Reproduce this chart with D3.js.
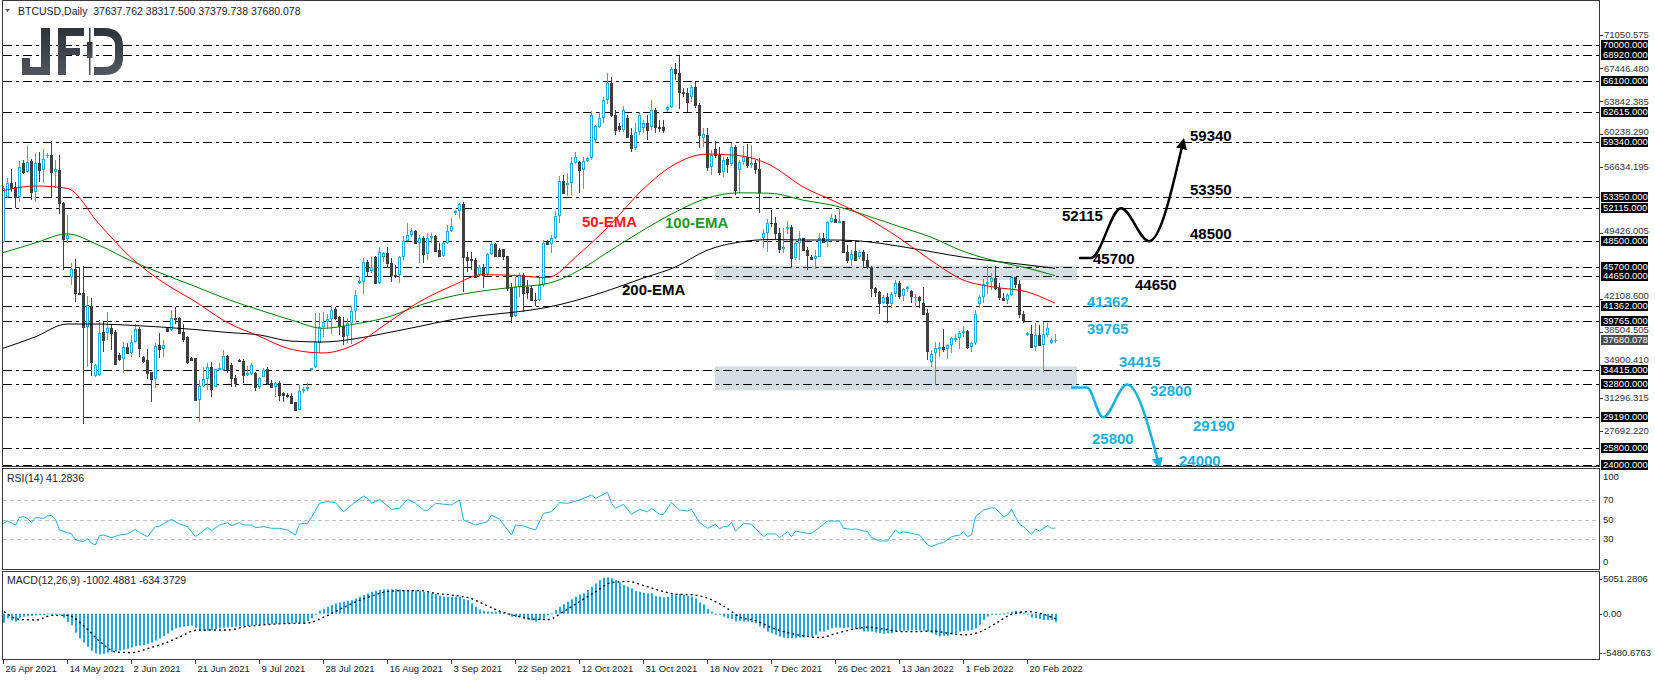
<!DOCTYPE html>
<html><head><meta charset="utf-8">
<script src="https://cdn.jsdelivr.net/npm/d3@7"></script>
<style>body{margin:0;background:#fff}svg{display:block}</style>
</head><body>
<svg id="c" width="1655" height="680"></svg>
<script>
// ---------------- DATA ----------------
const dateLabels = ["26 Apr 2021","14 May 2021","2 Jun 2021","21 Jun 2021","9 Jul 2021","28 Jul 2021","16 Aug 2021","3 Sep 2021","22 Sep 2021","12 Oct 2021","31 Oct 2021","18 Nov 2021","7 Dec 2021","26 Dec 2021","13 Jan 2022","1 Feb 2022","20 Feb 2022"];
const dateLabelBars = [0,16,32,48,64,80,96,112,128,144,160,176,192,208,224,240,256];

const open = [48450,53380,54900,54480,53310,57040,56120,57330,53930,57110,56300,57900,57950,56120,56300,52720,48700,44610,45420,42860,
42780,39060,41400,33720,33830,38580,38400,38950,38580,36030,35550,36860,36210,37490,38840,35840,35480,34200,33360,37120,
36650,39050,38770,40100,40040,38580,38030,35730,35660,31090,32630,33360,34750,32550,34450,34380,35920,34930,33470,35480,
35400,33980,33940,34090,32550,33650,34450,32920,32480,32920,31900,31640,31530,30910,30000,32120,32260,34380,34670,37380,
39060,39680,40000,41030,40230,39200,38110,39500,40880,43880,44060,46180,45270,46800,43880,46730,47170,46070,44790,44790,
46730,48560,49170,49620,48270,48810,47100,48810,49070,47530,46880,48270,49620,51550,51810,52580,46730,46510,46440,44790,
45630,44900,47100,48160,47530,47610,46880,43330,40300,43520,44790,43510,43330,42050,42050,43700,48450,48190,48810,51260,
55130,54650,54920,57030,57220,56300,57330,57580,59590,61050,61970,63980,65800,62330,61130,60690,61970,60140,58680,60510,
60870,61420,61050,62880,60980,60980,62880,63170,67340,66900,64890,64710,64270,65370,63430,59780,60140,56670,58570,57950,
56120,57470,56960,58860,56300,57220,57770,56850,57110,56380,48810,49430,50530,50460,49430,47610,49980,50090,46620,48270,
48810,47530,46800,46510,46800,48810,48450,50640,50900,50640,50700,47350,46440,47460,46800,47350,46440,45710,43330,42970,
41760,42350,41610,42710,43950,42490,43220,43080,42350,42420,41690,40590,35290,36210,36760,36860,36650,37120,37740,37850,
38470,38690,36860,37300,41610,42420,43810,44060,44430,43330,42240,42050,42600,44540,43810,40520,38330,38330,36940,38220,
37120,38220,37380,37637.762];
const high = [54500,55390,56380,55030,57330,57400,58940,57470,58200,58240,58570,58200,59520,57400,57950,52800,51370,46150,46510,45700,
45780,42490,42240,35000,39860,39680,40780,39420,38800,36200,37490,37380,38220,39420,39130,35920,36650,34200,37300,38400,
37670,39130,40960,41320,40150,39420,38110,35840,35660,33290,34750,35180,35290,34530,35180,36570,36030,35110,33830,35620,
35550,34800,35110,34160,33650,34560,34670,33280,33100,33210,32010,31820,31820,30910,32740,32480,32920,34620,40590,40590,
40780,40500,41500,41320,40300,40230,40040,41400,43150,44610,46620,46440,46730,46880,47830,47350,47900,46620,45890,46880,
49070,50460,49910,49730,49180,49060,49360,49360,49170,48260,48450,50280,51010,51920,52650,52830,47350,47350,46620,45890,
46000,47170,48450,48270,47720,47610,46880,43880,44610,44980,44980,44300,43700,42800,44500,48630,48630,49180,51810,55680,
55760,55940,57770,58310,57340,57700,57770,62810,61230,62700,64300,66900,66500,62880,61420,63290,62330,60870,61420,62700,
61790,62330,63990,63080,61790,61790,63350,67600,68000,68910,65250,65250,65620,66100,63600,60870,60870,58500,59500,58860,
57770,57770,59230,59000,57400,58900,59200,59000,57400,57580,49800,50900,51900,51200,50000,50000,50700,50300,48450,49620,
48880,47830,46990,47530,49360,49360,50750,51480,51370,51990,50750,48100,47560,48540,47500,47500,47100,45780,43510,43080,
42600,42790,42970,44250,44100,43400,43600,43200,42700,42500,43500,41100,36600,37500,37500,38840,37200,38000,38300,38700,
39200,38800,37400,41000,42600,44400,45780,45000,45780,43900,42800,42800,44640,44600,44200,40900,38600,39300,39500,39300,
39680,39500,37900,38317.5];
const low = [48300,53200,53930,52100,52830,55900,56000,53010,52830,55030,54910,57600,53310,54290,51440,45340,48260,43700,41870,42600,
28460,34750,33720,33650,33720,36390,37670,36570,34930,35400,34090,36130,35770,37380,35840,35180,33360,30910,32370,35660,
35770,38580,38690,39420,38380,37420,35040,35400,31000,28720,32550,32190,31380,32480,34380,34310,34020,32550,32550,35250,
32920,33740,33830,32120,32260,33570,32740,32370,31460,31030,30910,31280,30720,29920,30000,31900,32120,34260,34560,36280,
38030,38900,38300,39860,38200,37120,37300,37230,39860,43810,42710,44540,45050,43810,43810,46260,45530,44060,44430,43880,
46440,48560,48920,48190,46150,46070,46440,48340,47350,46800,46800,48190,49540,51370,50900,42970,45160,45340,44430,44610,
43330,44680,46990,46800,46800,46440,43000,39500,40150,42420,40770,42190,42050,41400,41900,43500,48080,47170,48700,50460,
53750,53450,53560,56960,53750,54190,57150,57400,59290,60900,61430,63500,62060,60140,60500,60500,59770,58310,58500,60140,
60320,59590,60690,60410,60500,60320,62700,63100,66200,63000,64300,62700,63800,63100,58690,58860,56150,55760,57580,55800,
55580,55940,56780,53560,53800,56800,56500,56500,55900,51550,47800,47300,50100,48700,47200,47200,49300,45520,46400,46440,
47460,45340,46440,45420,46730,48340,47900,50530,50460,50500,47300,46100,45800,46300,46500,45520,45400,42350,42350,40520,
41610,39500,41140,42420,42200,41900,42900,41700,41400,41200,40400,35500,34700,32740,35800,36300,35600,36200,37400,36700,
38000,36700,36300,37100,41200,41700,42700,43200,43200,42000,41900,41600,42500,43400,40100,39500,38100,36800,36500,37050,
34200,38050,37250,37379.738];
const close = [54300,54850,54300,53310,56600,56120,57220,53930,57110,56300,57470,58000,56120,56380,52720,48700,49180,45420,42780,42710,
39060,41500,35290,34930,38400,37670,38950,38400,35040,35550,36860,36210,37490,38840,36760,35400,34090,33360,37010,36650,
37120,38700,40040,39960,38400,37740,35290,35480,31090,32630,33360,34750,32260,34450,34560,35920,34450,33470,32990,35330,
33830,34030,34930,32550,33470,34380,32920,32480,32990,31640,31640,31530,30800,30000,32120,32260,32480,34560,37490,39060,
39680,40000,41000,40040,39200,38110,39570,40880,42600,44140,46180,45270,45630,43880,47350,47170,46070,44790,44680,46730,
48560,49170,49610,48270,48810,47100,48810,49070,47460,46880,48270,49620,50170,51810,52580,46730,46440,46440,44610,45630,
44750,47100,48160,46880,46880,46880,43330,40300,43520,44790,42860,42970,42050,42000,43700,48270,48190,48810,51260,55130,
53820,54920,57030,57770,56300,57330,57580,62330,61130,61970,63980,65800,62330,60690,60760,62880,59960,58680,60510,62330,
61420,60690,62880,60980,60870,60690,63170,67340,66900,64890,64710,63790,65370,63430,60140,60250,56670,57950,57950,56120,
57400,56960,58860,54110,57220,57770,56850,57030,56380,53930,49430,50460,50460,49430,47610,47900,50090,46620,48270,48810,
47530,46990,46510,46880,48810,48450,50640,51010,50640,50700,47350,46440,47100,46440,47350,46440,45710,43330,42970,41760,
42350,41690,42710,43880,42490,43220,43440,42490,42420,42050,40520,36500,36130,36760,36860,36650,37120,37850,37850,38470,
38690,36860,37300,40520,42420,43810,44060,44430,43330,42420,42050,42600,44540,43810,40520,39860,38400,36940,38220,37120,
38330,38950,37670,37680.078];

// moving averages read at every 8th bar (last point = last bar)
const emaBars = [0,8,16,24,32,40,48,56,64,72,80,88,96,104,112,120,128,136,144,152,160,168,176,184,192,200,208,216,224,232,240,248,256,263];
const ema50  = [54030,54550,54300,50400,46700,44000,41900,39600,38100,36650,36250,37180,39500,41830,43550,44830,44750,44500,47100,50400,54200,56950,58050,57880,56800,54450,52850,51050,48870,46400,44250,43450,42950,41700];
const ema100 = [47240,48300,49300,48050,46350,44900,43550,42150,40980,39870,38950,39420,40150,41450,42450,43050,43470,43850,45300,47520,49700,51670,53220,53800,53750,53000,52370,51290,50110,48940,47400,46340,45560,44720];
const ema200 = [36760,38000,39420,39420,39280,39080,38820,38500,38230,37550,37450,37800,38450,39150,39880,40370,40730,41250,42100,43200,44450,45650,47500,48400,48680,48630,48630,48450,47950,47350,46750,46300,45900,45530];

// RSI(14)
const rsiBars = [0,1,3,4,5,6,7,8,10,11,12,13,14,16,17,18,20,21,22,23,24,25,27,29,31,33,34,36,38,39,42,44,46,48,50,51,52,54,56,57,59,60,62,63,65,67,69,71,73,74,76,78,79,81,83,85,87,90,91,92,94,97,99,101,103,105,106,108,112,114,115,118,121,122,124,127,128,130,133,135,137,139,141,144,147,148,151,152,153,155,157,159,161,162,164,165,167,169,171,172,174,176,178,179,180,181,182,183,185,187,190,191,193,194,196,197,198,201,202,204,206,209,210,212,213,216,217,219,221,223,224,225,227,229,231,232,234,235,237,239,240,241,242,243,245,247,248,250,251,252,254,255,257,258,259,261,262,263];
const rsiValues = [46.1,48.5,44.3,52.2,52.9,51.2,46.8,51.9,51.2,53.6,54.3,50.2,39.2,36.5,35.2,29,27.3,30.4,25.6,23.9,33.5,34.1,31.4,34.1,35.2,39.9,36.5,32.4,42.7,43.3,50.2,45.4,42.7,32.4,38.6,42,38.6,44.4,46.8,43.7,46.8,44.4,44.4,41.6,42.7,41,41,39.2,34.1,45.4,46.1,59.1,66.6,68.3,67.3,58,64.9,74.1,71.7,66.6,70.7,60.4,61.5,70.7,66.6,59.8,59.1,66.6,64.9,70,49.5,44.3,47.8,54.6,50.2,34.1,44.4,43.3,39.2,56.3,58,67.3,66.6,70,75.1,71.7,77.9,66.6,61.5,65.6,55.3,60.4,58,61.5,55.3,55.3,67.3,59.7,58.7,60.4,47.1,40.9,45.1,40.3,42.7,42.7,47.1,38.2,46,45.1,32.4,35.2,35.2,31.4,37.5,32.4,38.2,35.8,35.8,42,48.4,48.4,40.9,39.9,40.3,37.5,31.4,28,28,39.2,35.8,37.5,35.8,34.1,23.9,22.2,25.6,26.3,32.4,34.1,37.5,32.4,34.1,52.9,59.7,62.1,61.5,52.9,54.6,60.4,45.1,42.7,34.8,40.3,38.2,43.7,41,41.2836];
const rsiLevels = [70,50,30];

// MACD(12,26,9): main line as histogram, signal read every 4 bars
const macdMain = [-1090,-560,-800,-960,-500,-360,-300,-280,-200,-160,
0,40,-40,-40,-120,-500,-1000,-1400,-2300,-3000,
-3500,-4000,-4500,-4800,-4920,-4850,-4720,-4650,-4550,-4450,
-4350,-4250,-4100,-3950,-3850,-3800,-3650,-3500,-3250,-3000,
-2700,-2400,-2050,-1770,-1650,-1570,-1500,-1450,-1700,-1970,
-2050,-2050,-1970,-1850,-1770,-1700,-1650,-1600,-1570,-1520,
-1490,-1470,-1450,-1400,-1370,-1330,-1290,-1260,-1250,-1200,
-1170,-1170,-1170,-1100,-1090,-1250,-900,-560,-100,360,
600,850,1050,1250,1350,1450,1550,1650,1850,2060,
2260,2460,2650,2790,2900,2950,2950,2950,2950,2920,
2880,2870,2870,2830,2790,2650,2550,2450,2380,2200,
2060,2060,2060,2060,2060,1800,1650,1250,850,500,
360,280,240,240,240,100,40,-360,-400,-440,
-560,-680,-800,-960,-750,-560,-200,40,450,850,
1150,1450,1750,2060,2300,2460,2870,3270,3670,4070,
4360,4400,4280,4070,3790,3470,3270,3070,2750,2660,
2540,2460,2460,2140,2060,1980,2060,2340,2380,2380,
2260,2180,2060,1860,1370,1130,570,250,-30,-70,
-350,-550,-630,-950,-870,-950,-950,-1030,-1150,-1550,
-1760,-2160,-2360,-2560,-2760,-2880,-2960,-2960,-2960,-2880,
-2880,-2760,-2760,-2560,-2160,-2160,-1960,-1760,-1680,-1680,
-1760,-1680,-1760,-1880,-1880,-2160,-2160,-2160,-2280,-2360,
-2440,-2360,-2360,-2160,-2080,-2040,-2040,-2040,-2040,-2040,
-2040,-2160,-2360,-2560,-2760,-2680,-2680,-2480,-2360,-2160,
-2080,-2040,-1960,-1760,-1350,-750,-350,-150,-30,10,
50,130,250,370,250,130,-70,-470,-550,-630,
-750,-750,-750,-1002.4881];
const signalBars = [0,4,8,12,16,20,24,28,32,36,40,44,48,52,56,60,64,68,72,76,80,84,88,92,96,100,104,108,112,116,120,124,128,132,136,140,144,148,152,156,160,164,168,172,176,180,184,188,192,196,200,204,208,212,216,220,224,228,232,236,240,244,248,252,256,260,263];
const macdSignal = [250,-700,-760,-200,-200,-1500,-3390,-4650,-4700,-4200,-3600,-2800,-2000,-1970,-1970,-1600,-1380,-1250,-1170,-1120,-400,550,1450,2150,2700,2800,2800,2450,2260,1950,1150,300,-250,-650,-700,300,1500,2700,3800,3900,3400,2800,2360,2300,1850,900,-400,-850,-1700,-2300,-2700,-2880,-2400,-1900,-1640,-1850,-2160,-2160,-2100,-2350,-2560,-2200,-1150,-50,250,-100,-634.3729];

// horizontal levels (dash-dot) with black price tags
const levels = [70000,68920,66100,62615,59340,53350,52115,48500,45700,44650,41362,39765,34415,32800,29190,25800,24000];
const priceTicks = [71050.575,67446.480,63842.385,60238.290,56634.195,49426.005,42108.600,38504.505,34900.410,31296.315,27692.220];
const lastPrice = 37680.078;
const zones = [[45850,44250],[34780,32150]];
// scenario paths: [price, bar offset from the path start]
const scenarioUp = [[46650,0],[46650,3],[52115,10.5],[48500,17.5],[59340,26]];
const scenarioDown = [[32450,0],[32450,4],[29190,8],[32800,14],[24000,22]];
const blackLabels = [["59340",59340],["53350",53350],["52115",52115],["48500",48500],["45700",45700],["44650",44650]];
const blueLabels = [["41362",41362],["39765",39765],["34415",34415],["32800",32800],["29190",29190],["25800",25800],["24000",24000]];

// ---------------- DRAW ----------------
const svg = d3.select("#c");
const CY = "#1cb0df", DK = "#404040", FONT = "'Liberation Sans', Arial, sans-serif";
const nBars = close.length;

const x = d3.scaleLinear().domain([0, 1]).range([3, 7]);           // 4px per bar
const y = d3.scaleLinear().domain([70000, 24000]).range([45.05, 464.7]);
const yR = d3.scaleLinear().domain([0, 100]).range([568.25, 470.75]);
const yM = d3.scaleLinear().domain([-5480.6763, 5051.2806]).range([659, 572]);

const P = {x0: 2.5, x1: 1599.5};
const panels = [[0.5, 466.5], [468.5, 569.5], [571.5, 659.5]];
const defs = svg.append("defs");
panels.forEach((p, k) => {
  defs.append("clipPath").attr("id", "cp" + k).append("rect")
    .attr("x", 3).attr("y", p[0] + 0.5).attr("width", 1596).attr("height", p[1] - p[0] - 1);
});
const g0 = svg.append("g").attr("clip-path", "url(#cp0)");
const g1 = svg.append("g").attr("clip-path", "url(#cp1)");
const g2 = svg.append("g").attr("clip-path", "url(#cp2)");

// zones
zones.forEach(z => {
  g0.append("rect").attr("x", 715).attr("width", 362)
    .attr("y", y(z[0])).attr("height", y(z[1]) - y(z[0])).attr("fill", "#d5dfe3");
});

// levels
levels.forEach(l => {
  const yy = Math.round(y(l)) + 0.5;
  g0.append("line").attr("x1", 3).attr("x2", 1599).attr("y1", yy).attr("y2", yy)
    .attr("stroke", "#000").attr("stroke-width", 1).attr("stroke-dasharray", "9,4,3,4");
});

// logo
const logo = svg.append("g");
const grad = defs.append("linearGradient").attr("id", "lg").attr("x1", 0).attr("y1", 0).attr("x2", 0).attr("y2", 1);
grad.append("stop").attr("offset", 0).attr("stop-color", "#2f343c");
grad.append("stop").attr("offset", 1).attr("stop-color", "#50555d");
logo.append("path").attr("fill", "url(#lg)")
  .attr("d", "M41,28 H50 V75 H22 V58 H30 V67 H41 Z M58,28 H84 V36 H66 V48 H80 V55 H66 V75 H58 Z");
logo.append("rect").attr("x", 89).attr("y", 28).attr("width", 1.5).attr("height", 47).attr("fill", "url(#lg)");
logo.append("rect").attr("x", 87).attr("y", 42).attr("width", 5.5).attr("height", 16).attr("fill", "url(#lg)");
logo.append("path").attr("fill", "none").attr("stroke", "url(#lg)").attr("stroke-width", 8)
  .attr("d", "M94,32 H104 Q119,32 119,46 V57 Q119,71 104,71 H94");

// candles
const bars = d3.range(nBars);
const cg = g0.append("g");
bars.forEach(i => {
  const cx = Math.round(x(i));
  const up = close[i] >= open[i];
  const col = up ? CY : DK;
  const yH = Math.round(y(high[i])), yL = Math.round(y(low[i]));
  cg.append("rect").attr("x", cx).attr("y", yH).attr("width", 1).attr("height", Math.max(1, yL - yH)).attr("fill", col);
  const yO = Math.round(y(open[i])), yC = Math.round(y(close[i]));
  if (up) {
    const h = yO - yC;
    if (h >= 2) cg.append("rect").attr("x", cx - 0.5).attr("y", yC + 0.5).attr("width", 2).attr("height", h - 1)
      .attr("fill", "#fff").attr("stroke", col).attr("stroke-width", 1);
    else cg.append("rect").attr("x", cx - 1).attr("y", yC).attr("width", 3).attr("height", Math.max(1, h + 1)).attr("fill", col);
  } else {
    cg.append("rect").attr("x", cx - 1).attr("y", yO).attr("width", 3).attr("height", Math.max(1, yC - yO + 1)).attr("fill", col);
  }
});

// EMAs
const emaLine = d3.line().x((d, k) => x(emaBars[k])).y(d => y(d)).curve(d3.curveMonotoneX);
[[ema200, "#000"], [ema100, "#008000"], [ema50, "#ff0000"]].forEach(([arr, c]) => {
  g0.append("path").attr("d", emaLine(arr)).attr("fill", "none").attr("stroke", c).attr("stroke-width", 1);
});

// scenario arrows
function arrowPath(pts, x0) {
  return d3.line().x(d => x0 + d[1] * 4).y(d => y(d[0])).curve(d3.curveMonotoneX)(pts);
}
[["ahB", "#000"], ["ahC", CY]].forEach(([id, c]) => {
  defs.append("marker").attr("id", id).attr("viewBox", "0 0 10 10").attr("refX", 6).attr("refY", 5)
    .attr("markerWidth", 4.5).attr("markerHeight", 4.5).attr("orient", "auto")
    .append("path").attr("d", "M0,0 L10,5 L0,10 Z").attr("fill", c);
});
g0.append("path").attr("d", arrowPath(scenarioUp, 1079)).attr("fill", "none").attr("stroke", "#000")
  .attr("stroke-width", 2.5).attr("marker-end", "url(#ahB)");
g0.append("path").attr("d", arrowPath(scenarioDown, 1071)).attr("fill", "none").attr("stroke", CY)
  .attr("stroke-width", 2.5).attr("marker-end", "url(#ahC)");

// annotation labels
const bPos = {"59340": [1190, -7], "53350": [1190, -7], "52115": [1062, 8], "48500": [1190, -7], "45700": [1093, -8], "44650": [1135, 8]};
blackLabels.forEach(([t, v]) => {
  const p = bPos[t];
  g0.append("text").attr("x", p[0]).attr("y", y(v) + p[1]).attr("dy", "0.35em").text(t)
    .attr("font-family", FONT).attr("font-weight", "bold").attr("font-size", 15).attr("fill", "#000");
});
const cPos = {"41362": [1087, -5], "39765": [1087, 8], "34415": [1119, -8], "32800": [1150, 6], "29190": [1193, 8], "25800": [1092, -10], "24000": [1179, -4]};
blueLabels.forEach(([t, v]) => {
  const p = cPos[t];
  g0.append("text").attr("x", p[0]).attr("y", y(v) + p[1]).attr("dy", "0.35em").text(t)
    .attr("font-family", FONT).attr("font-weight", "bold").attr("font-size", 15).attr("fill", CY);
});
[["50-EMA", 582, 222, "#ff1a1a"], ["100-EMA", 665, 223, "#1f9a1f"], ["200-EMA", 622, 290, "#000"]].forEach(([t, xx, yy, c]) => {
  g0.append("text").attr("x", xx).attr("y", yy).attr("dy", "0.35em").text(t)
    .attr("font-family", FONT).attr("font-weight", "bold").attr("font-size", 15).attr("fill", c);
});

// RSI panel
rsiLevels.forEach(l => {
  const yy = Math.round(yR(l)) + 0.5;
  g1.append("line").attr("x1", 3).attr("x2", 1599).attr("y1", yy).attr("y2", yy)
    .attr("stroke", "#c0c0c0").attr("stroke-dasharray", "4,3");
});
g1.append("path").attr("d", d3.line().x((d, k) => x(rsiBars[k]) + 0.5).y(d => yR(d))(rsiValues))
  .attr("fill", "none").attr("stroke", CY).attr("stroke-width", 1);

// MACD panel
bars.forEach(i => {
  const v = macdMain[i];
  const y0 = yM(0), y1 = yM(v);
  g2.append("rect").attr("x", Math.round(x(i))).attr("width", 2)
    .attr("y", Math.min(y0, y1)).attr("height", Math.max(1, Math.abs(y1 - y0))).attr("fill", "#22a8d8");
});
g2.append("path").attr("d", d3.line().x((d, k) => x(signalBars[k]) + 1).y(d => yM(d)).curve(d3.curveMonotoneX)(macdSignal))
  .attr("fill", "none").attr("stroke", "#000").attr("stroke-width", 1.3).attr("stroke-dasharray", "2,3");

// panel borders
panels.forEach(p => {
  svg.append("rect").attr("x", P.x0).attr("y", p[0]).attr("width", P.x1 - P.x0).attr("height", p[1] - p[0])
    .attr("fill", "none").attr("stroke", "#3a3a3a").attr("stroke-width", 1);
});

// header texts
svg.append("path").attr("d", "M5,9 L10,9 L7.5,12 Z").attr("fill", "#555");
svg.append("text").attr("x", 18).attr("y", 14.5).text("BTCUSD,Daily  37637.762 38317.500 37379.738 37680.078")
  .attr("font-family", FONT).attr("font-size", 10.5).attr("fill", "#1a1a2a").style("white-space", "pre");
svg.append("text").attr("x", 7).attr("y", 482).text("RSI(14) 41.2836")
  .attr("font-family", FONT).attr("font-size", 10.5).attr("fill", "#1a1a2a");
svg.append("text").attr("x", 7).attr("y", 584).text("MACD(12,26,9) -1002.4881 -634.3729")
  .attr("font-family", FONT).attr("font-size", 10.5).attr("fill", "#1a1a2a");

// right price axis
const ax = svg.append("g").attr("font-family", FONT).attr("font-size", 9.5);
const boxYs = levels.map(l => Math.round(y(l))).concat([Math.round(y(lastPrice))]);
priceTicks.forEach(t => {
  let yy = y(t);
  // keep the grey tick text clear of a neighbouring price tag
  boxYs.forEach(b => { if (Math.abs(b - yy) < 10.5) yy = b - 10.5; });
  ax.append("line").attr("x1", 1599).attr("x2", 1603).attr("y1", Math.round(y(t)) + 0.5).attr("y2", Math.round(y(t)) + 0.5).attr("stroke", "#333");
  ax.append("text").attr("x", 1604).attr("y", yy).attr("dy", "0.35em").text(d3.format(".3f")(t)).attr("fill", "#333");
});
levels.forEach(l => {
  const yy = Math.round(y(l));
  ax.append("rect").attr("x", 1601).attr("y", yy - 5).attr("width", 47).attr("height", 10).attr("fill", "#000");
  ax.append("text").attr("x", 1603).attr("y", yy).attr("dy", "0.36em").text(d3.format(".3f")(l)).attr("fill", "#fff");
});
{
  const yy = Math.round(y(lastPrice));
  ax.append("rect").attr("x", 1601).attr("y", yy - 5).attr("width", 47).attr("height", 10).attr("fill", "#4d4d4d");
  ax.append("text").attr("x", 1603).attr("y", yy).attr("dy", "0.36em").text(d3.format(".3f")(lastPrice)).attr("fill", "#fff");
}
// RSI axis
[[100, 477], [70, yR(70)], [50, yR(50)], [30, yR(30)], [0, 562]].forEach(([t, yy]) => {
  ax.append("text").attr("x", 1603).attr("y", yy).attr("dy", "0.35em").text(t).attr("fill", "#222");
});
// MACD axis
[["5051.2806", 579], ["0.00", yM(0)], ["-5480.6763", 653]].forEach(([t, yy]) => {
  ax.append("line").attr("x1", 1599).attr("x2", 1602).attr("y1", Math.round(yy) + 0.5).attr("y2", Math.round(yy) + 0.5).attr("stroke", "#333");
  ax.append("text").attr("x", 1603).attr("y", yy).attr("dy", "0.35em").text(t).attr("fill", "#222");
});

// time axis
dateLabels.forEach((t, k) => {
  const xx = Math.round(x(dateLabelBars[k])) + 0.5;
  ax.append("line").attr("x1", xx).attr("x2", xx).attr("y1", 660).attr("y2", 664).attr("stroke", "#333");
  ax.append("text").attr("x", xx + 2).attr("y", 669).attr("dy", "0.35em").text(t).attr("fill", "#222");
});
</script>
</body></html>
